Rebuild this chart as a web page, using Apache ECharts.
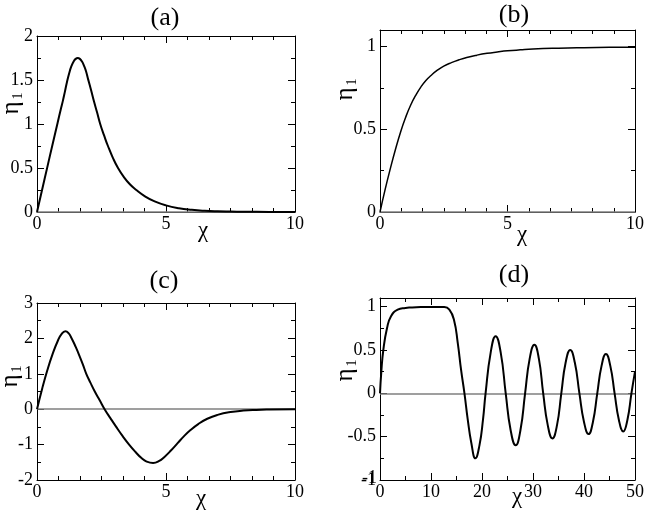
<!DOCTYPE html>
<html>
<head>
<meta charset="utf-8">
<script src="https://cdn.jsdelivr.net/npm/echarts@6/dist/echarts.min.js"></script>
<style>
html,body{margin:0;padding:0;background:#fff;}
#chart{width:647px;height:512px;}
</style>
</head>
<body>
<div id="chart"></div>
<script>
// ---- data ----
var panelTitles = ['(a)', '(b)', '(c)', '(d)'];
var xName = 'χ';
var yNameMain = 'η';
var yNameSub = '1';

var xA = [0, 0.2, 0.4, 0.6, 0.8, 0.92, 1.0, 1.08, 1.16, 1.25, 1.33, 1.42, 1.5, 1.58, 1.66, 1.75, 1.82, 1.9, 1.98, 2.1, 2.21, 2.33, 2.45, 2.6, 2.75, 2.95, 3.14, 3.35, 3.6, 3.85, 4.2, 4.56, 5.0, 5.5, 6.0, 6.5, 7.0, 7.5, 8.0, 9.0, 10.0];
var yA = [0, 0.255, 0.51, 0.765, 1.015, 1.165, 1.26, 1.365, 1.475, 1.58, 1.655, 1.71, 1.74, 1.75, 1.74, 1.707, 1.664, 1.6, 1.51, 1.38, 1.255, 1.13, 1.0, 0.87, 0.75, 0.61, 0.5, 0.405, 0.315, 0.25, 0.175, 0.12, 0.075, 0.043, 0.025, 0.014, 0.008, 0.005, 0.003, 0.001, 0];

var xB = [0, 0.2, 0.41, 0.6, 0.82, 1.0, 1.2, 1.4, 1.6, 1.8, 2.0, 2.25, 2.5, 2.8, 3.1, 3.4, 3.8, 4.2, 4.6, 5.0, 5.5, 6, 7, 8, 9, 10];
var yB = [0, 0.135, 0.265, 0.375, 0.49, 0.57, 0.645, 0.705, 0.755, 0.795, 0.825, 0.857, 0.882, 0.903, 0.92, 0.934, 0.948, 0.959, 0.967, 0.974, 0.98, 0.985, 0.99, 0.993, 0.995, 0.996];

var xC = [0, 0.2, 0.4, 0.6, 0.8, 0.95, 1.1, 1.22, 1.33, 1.5, 1.65, 1.78, 1.91, 2.07, 2.24, 2.43, 2.62, 2.85, 3.07, 3.32, 3.57, 3.82, 4.05, 4.25, 4.5, 4.72, 4.95, 5.2, 5.45, 5.7, 5.95, 6.25, 6.6, 7.0, 7.5, 8.0, 8.5, 9.0, 10.0];
var yC = [0, 0.58, 1.1, 1.55, 1.92, 2.12, 2.2, 2.15, 2.02, 1.76, 1.5, 1.26, 1.0, 0.75, 0.5, 0.25, 0, -0.26, -0.5, -0.76, -1.0, -1.21, -1.38, -1.48, -1.52, -1.47, -1.34, -1.16, -0.96, -0.76, -0.59, -0.42, -0.27, -0.16, -0.08, -0.04, -0.02, -0.01, 0];

var xD = [0, 0.26, 0.65, 1.37, 2.16, 3.47, 5, 6.1, 8, 10, 12.6, 13.6, 14.5, 15.25, 15.9, 16.56, 17.2, 17.9, 18.7, 19.5, 20.2, 20.7, 21.7, 22.67, 23.67, 24.65, 25.6, 26.6, 27.55, 28.45, 29.35, 30.27, 31.15, 32.0, 32.9, 33.8, 34.7, 35.55, 36.4, 37.3, 38.2, 39.1, 40.0, 40.9, 41.75, 42.6, 43.45, 44.3, 45.15, 46.0, 46.85, 47.7, 48.5, 49.3, 50];
var yD = [0, 0.25, 0.5, 0.75, 0.89, 0.965, 0.985, 0.99, 0.995, 0.997, 0.995, 0.965, 0.85, 0.58, 0.27, 0, -0.3, -0.57, -0.75, -0.6, -0.3, 0, 0.47, 0.66, 0.47, 0, -0.42, -0.6, -0.42, 0, 0.4, 0.56, 0.4, 0, -0.37, -0.52, -0.37, 0, 0.355, 0.5, 0.355, 0, -0.33, -0.47, -0.33, 0, 0.32, 0.454, 0.32, 0, -0.31, -0.44, -0.31, 0, 0.25];

// axis ranges: [min, max, majorInterval, minorSplit / minorInterval]
var xRanges = [[0, 10, 5, 6], [0, 10, 5, 6], [0, 10, 5, 6], [0, 50, 10, 2]];
var yRanges = [[0, 2, 0.5, 0.25], [0, 1.1, 0.5, 0.25], [-2, 3, 1, 0.5], [-1, 1.1, 0.5, 0.25]];

// ---- layout ----
var FONT = "'Liberation Serif', 'Times New Roman', serif";
var grids = [
  {left: 37, top: 36, width: 258, height: 176},
  {left: 380, top: 30, width: 255, height: 182},
  {left: 37, top: 303, width: 258, height: 177},
  {left: 380, top: 298, width: 255, height: 182}
];
var titlePos = [[165, 18], [514, 15], [164, 281], [514, 275]];
var chiPos = [[203, 231], [522, 235], [201, 499], [517, 497]];
var etaPos = [[11, 108], [345, 94], [10, 381], [345, 375]];
var lineWidths = [2, 1.5, 2, 2];

var xs = [xA, xB, xC, xD], ys = [yA, yB, yC, yD];

function majorOnly(step) {
  return function (v) {
    var r = v / step;
    return Math.abs(r - Math.round(r)) < 1e-6 ? String(Math.round(v * 1000) / 1000) : '';
  };
}

var xAxes = [], yAxes = [], series = [], graphics = [];
var black = '#000';
for (var i = 0; i < 4; i++) {
  var xr = xRanges[i], yr = yRanges[i];
  ['bottom', 'top'].forEach(function (pos) {
    xAxes.push({
      gridIndex: i, type: 'value', position: pos, min: xr[0], max: xr[1], interval: xr[2],
      axisLine: {show: true, onZero: false, lineStyle: {color: black, width: 1}},
      axisTick: {show: true, inside: true, length: 7, lineStyle: {color: black, width: 1}},
      minorTick: {show: true, splitNumber: xr[3], length: 4, lineStyle: {color: black, width: 1}},
      axisLabel: {show: pos === 'bottom', margin: 3, color: black, fontSize: 18, fontFamily: FONT,
        showMinLabel: true, showMaxLabel: true, hideOverlap: false},
      splitLine: {show: false}, minorSplitLine: {show: false}
    });
  });
  ['left', 'right'].forEach(function (pos) {
    yAxes.push({
      gridIndex: i, type: 'value', position: pos, offset: 0, min: yr[0], max: yr[1], interval: yr[2],
      axisLine: {show: true, onZero: false, lineStyle: {color: black, width: 1}},
      axisTick: {show: true, inside: true, length: 7, lineStyle: {color: black, width: 1}},
      axisLabel: {show: pos === 'left', margin: 4, color: black, fontSize: 18, fontFamily: FONT,
        showMinLabel: true, showMaxLabel: true, hideOverlap: false, formatter: majorOnly(yr[2])},
      splitLine: {show: false}
    });
    yAxes.push({
      gridIndex: i, type: 'value', position: pos, offset: 0, min: yr[0], max: yr[1], interval: yr[3],
      axisLine: {show: false, onZero: false},
      axisTick: {show: true, inside: true, length: 4, lineStyle: {color: black, width: 1}},
      axisLabel: {show: false},
      splitLine: {show: false}
    });
  });
  var pts = xs[i].map(function (x, k) { return [x, ys[i][k]]; });
  series.push({
    type: 'line', xAxisIndex: i * 2, yAxisIndex: i * 4, data: pts,
    showSymbol: false, smooth: 0.5, z: 3,
    lineStyle: {color: black, width: lineWidths[i]},
    markLine: {
      silent: true, symbol: 'none', z: 1, animation: false,
      label: {show: false},
      lineStyle: {color: '#7f7f7f', width: 1.5, type: 'solid'},
      data: [{yAxis: 0}]
    }
  });
  graphics.push({
    type: 'text', id: 'title' + i, x: titlePos[i][0], y: titlePos[i][1],
    style: {text: panelTitles[i], font: "26px " + FONT, fill: black, align: 'center', verticalAlign: 'middle'}
  });
  graphics.push({
    type: 'text', id: 'chi' + i, x: chiPos[i][0], y: chiPos[i][1],
    style: {text: xName, font: "23px " + FONT, fill: black, align: 'center', verticalAlign: 'middle'}
  });
  graphics.push({
    type: 'group', id: 'eta' + i, x: etaPos[i][0], y: etaPos[i][1], rotation: Math.PI / 2,
    children: [
      {type: 'text', x: 0, y: 0, style: {text: yNameMain, font: "25px " + FONT, fill: black, align: 'center', verticalAlign: 'middle'}},
      {type: 'text', x: 12, y: 7, style: {text: yNameSub, font: "14px " + FONT, fill: black, align: 'center', verticalAlign: 'middle'}}
    ]
  });
}

var chart = echarts.init(document.getElementById('chart'), null, {renderer: 'canvas'});
chart.setOption({
  animation: false,
  backgroundColor: '#fff',
  grid: grids.map(function (g) { return Object.assign({containLabel: false}, g); }),
  xAxis: xAxes,
  yAxis: yAxes,
  series: series,
  graphic: graphics
});

// Panel (d): the bottom y tick label (axis min) is not drawn by the axis here,
// so place it at the pixel position given by the axis scale.
(function () {
  var k = 3;
  var yMin = yRanges[k][0];
  var py = chart.convertToPixel({yAxisIndex: k * 4}, yMin);
  var px = chart.convertToPixel({xAxisIndex: k * 2}, xRanges[k][0]);
  if (typeof py !== 'number' || isNaN(py)) { py = grids[k].top + grids[k].height; }
  if (typeof px !== 'number' || isNaN(px)) { px = grids[k].left; }
  chart.setOption({
    graphic: [{
      type: 'text', id: 'yminlabel' + k, x: px - 3, y: py - 2, z: 1000,
      style: {text: String(yMin), font: "18px " + FONT, fill: black, align: 'right', verticalAlign: 'middle'}
    }]
  });
})();
</script>
</body>
</html>
